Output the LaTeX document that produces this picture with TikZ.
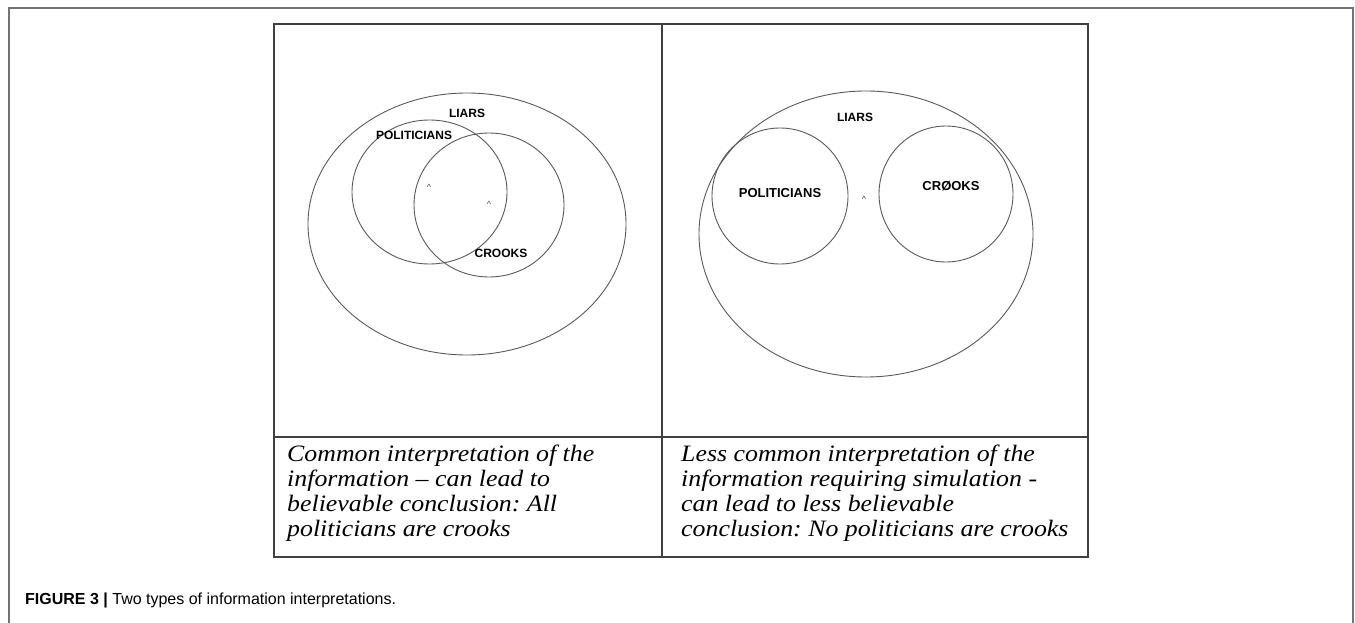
\documentclass[tikz,border=0pt]{standalone}
\usepackage{fontspec}
\setmainfont{Liberation Serif}
\newfontfamily\arialfont{Liberation Sans}
\newfontfamily\cellfont[FakeStretch=1.1, Ligatures=TeX]{Liberation Serif}
\usepackage{tikz}
\usetikzlibrary{shapes.geometric}
\frenchspacing

\tikzset{
    set/.style={draw=black!65, line width=0.9pt, ellipse, inner sep=0pt, outer sep=0pt},
    setname/.style={font=\arialfont\bfseries\fontsize{12}{14}\selectfont},
    caret/.style={text=black!70, font=\arialfont\fontsize{9}{10}\selectfont, inner sep=0pt},
    celltext/.style={anchor=north west, inner sep=0pt, align=left,
        font=\cellfont\itshape\fontsize{23.5}{25}\selectfont},
    tableline/.style={draw=black!75, line width=1.6pt}
}

\begin{document}
\begin{tikzpicture}[x=1pt, y=-1pt]
        \useasboundingbox (0,0) rectangle (1355,623);
        % Outer frame
        \draw[black!55, line width=1.5pt] (9,623) -- (9,8) -- (1353,8) -- (1353,623);

        % Table
        \draw[tableline] (274,24) rectangle (1088,557);
        \draw[tableline] (662,24) -- (662,557);
        \draw[tableline] (274,437) -- (1088,437);

        % Left panel
        \node[set, minimum width=318, minimum height=262] (liarsL) at (467,224) {};
        \node[set, minimum width=155, minimum height=144] (polL) at (429.5,192) {};
        \node[set, minimum width=150, minimum height=144] (crkL) at (489,205) {};
        \node[setname] (liarsLtxt) at (467,113) {LIARS};
        \node[setname] (polLtxt) at (414,135) {POLITICIANS};
        \node[setname] (crkLtxt) at (501,253) {CROOKS};
        \node[caret] (c1) at (429,187) {\textasciicircum};
        \node[caret] (c2) at (489,204) {\textasciicircum};

        % Right panel
        \node[set, minimum width=334, minimum height=286] (liarsR) at (866,234) {};
        \node[set, minimum width=136, minimum height=136] (polR) at (780,196) {};
        \node[set, minimum width=134, minimum height=136] (crkR) at (946,194) {};
        \node[setname] (liarsRtxt) at (855,117) {LIARS};
        \node[setname, font=\arialfont\bfseries\fontsize{13}{15}\selectfont] (polRtxt) at (780,193) {POLITICIANS};
        \node[setname, font=\arialfont\bfseries\fontsize{13}{15}\selectfont] (crkRtxt) at (951,186) {CRØOKS};
        \node[caret] (c3) at (864,199) {\textasciicircum};

        % Cell texts
        \node[celltext] (capL) at (287,445) {Common interpretation of the\\
            information – can lead to\\
            believable conclusion: All\\
            politicians are crooks};
        \node[celltext] (capR) at (681,445) {Less common interpretation of the\\
            information requiring simulation -\\
            can lead to less believable\\
            conclusion: No politicians are crooks};

        % Figure caption
        \node[anchor=west, inner sep=0pt, font=\arialfont\fontsize{16}{18}\selectfont] (fig) at (25,600)
            {{\bfseries FIGURE 3 |} Two types of information interpretations.};
    \end{tikzpicture}
\end{document}
